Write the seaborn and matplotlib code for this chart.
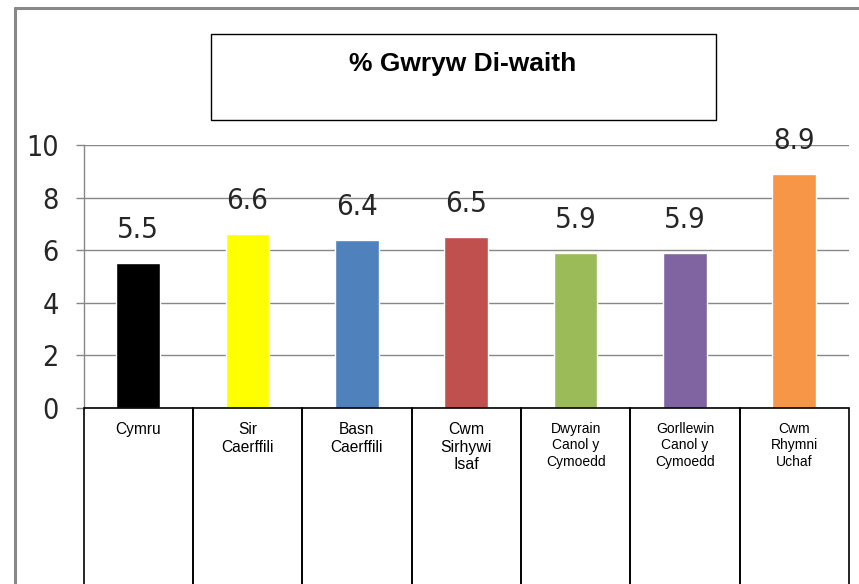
import matplotlib
matplotlib.use("Agg")
import matplotlib.pyplot as plt
import matplotlib.transforms as mtransforms
from matplotlib import font_manager
from matplotlib.patches import Rectangle
from matplotlib.lines import Line2D
import seaborn as sns
import pandas as pd

# ---- data ----
categories = ["Cymru", "Sir\nCaerffili", "Basn\nCaerffili", "Cwm\nSirhywi\nIsaf",
              "Dwyrain\nCanol y\nCymoedd", "Gorllewin\nCanol y\nCymoedd", "Cwm\nRhymni\nUchaf"]
values = [5.5, 6.6, 6.4, 6.5, 5.9, 5.9, 8.9]
y_ticks = [0, 2, 4, 6, 8, 10]
title_text = "% Gwryw Di-waith"

# ---- styles ----
bar_colors = ["#000000", "#FFFF00", "#4F81BD", "#C0504D", "#9BBB59", "#8064A2", "#F79646"]
label_sizes = [11.2, 11.2, 11.2, 11.4, 10.0, 10.0, 10.0]

sns.set_theme(style="white")
plt.rcParams["font.family"] = ["Liberation Sans", "DejaVu Sans"]

# look for a narrow / condensed face for the numbers (Calibri-like look)
num_prop = None
for f in font_manager.fontManager.ttflist:
    nm = f.name
    is_narrow = ("Narrow" in nm or "Condensed" in nm or
                 str(f.stretch) in ("condensed", "semi-condensed", "extra-condensed"))
    if is_narrow and str(f.weight) in ("400", "normal", "regular") and f.style == "normal":
        num_prop = font_manager.FontProperties(fname=f.fname)
        break
if num_prop is not None:
    num_size = 20.5
else:
    num_prop = font_manager.FontProperties(family=["Lato", "DejaVu Sans"])
    num_size = 19
num_color = "#262626"
grid_color = "#878787"

W, H = 859, 584
fig = plt.figure(figsize=(W / 100, H / 100), dpi=100)
fig.patch.set_facecolor("white")
ax = fig.add_axes([83.5 / W, 176 / H, (849 - 83.5) / W, 263 / H])

df = pd.DataFrame({"cat": categories, "val": values})
sns.barplot(data=df, x="cat", y="val", hue="cat", palette=bar_colors,
            width=0.4, legend=False, ax=ax, saturation=1)

ax.set_xlim(-0.5, 6.5)
ax.set_ylim(0, 10)
ax.set_yticks(y_ticks)
ax.set_yticklabels([str(t) for t in y_ticks])
ax.set_xticks([])
ax.set_xlabel("")
ax.set_ylabel("")
ax.yaxis.grid(True, color=grid_color, linewidth=1.0)
ax.set_axisbelow(True)
ax.tick_params(axis="y", left=True, length=5.8, width=1.0, color=grid_color,
               pad=12, labelcolor=num_color)
for lbl in ax.get_yticklabels():
    lbl.set_fontproperties(num_prop)
    lbl.set_fontsize(num_size)
for s in ["top", "right", "bottom"]:
    ax.spines[s].set_visible(False)
ax.spines["left"].set_color(grid_color)
ax.spines["left"].set_linewidth(1.0)

# value labels
for i, v in enumerate(values):
    t = ax.annotate(f"{v:.1f}", xy=(i, v), xytext=(0, 18), textcoords="offset points",
                    ha="center", va="baseline", color=num_color)
    t.set_fontproperties(num_prop)
    t.set_fontsize(num_size + 0.5)

# category boxes with labels
trans = mtransforms.blended_transform_factory(ax.transData, ax.transAxes)
for i, cat in enumerate(categories):
    ax.add_patch(Rectangle((i - 0.5, -0.8), 1, 0.8, transform=trans, fill=False,
                           edgecolor="black", linewidth=1.2, clip_on=False, zorder=5))
    ax.annotate(cat, xy=(i, 0), xycoords=trans, xytext=(0, -10), textcoords="offset points",
                ha="center", va="top", fontsize=label_sizes[i], multialignment="center",
                linespacing=1.22, color="black", annotation_clip=False)

# outer frame
fig.add_artist(Line2D([15 / W, 15 / W], [0, 1 - 8 / H], transform=fig.transFigure,
                      color="#888888", linewidth=2.2))
fig.add_artist(Line2D([15 / W, 1], [1 - 8 / H, 1 - 8 / H], transform=fig.transFigure,
                      color="#888888", linewidth=2.2))

# title box
fig.add_artist(Rectangle((211 / W, 1 - 119.5 / H), (716 - 211) / W, (119.5 - 34) / H,
                         transform=fig.transFigure, fill=False, edgecolor="black",
                         linewidth=1.0))
fig.text(463 / W, 1 - 64 / H, title_text, ha="center", va="center",
         fontsize=19, fontweight="bold", color="black")

fig.savefig("out.png", dpi=100)
